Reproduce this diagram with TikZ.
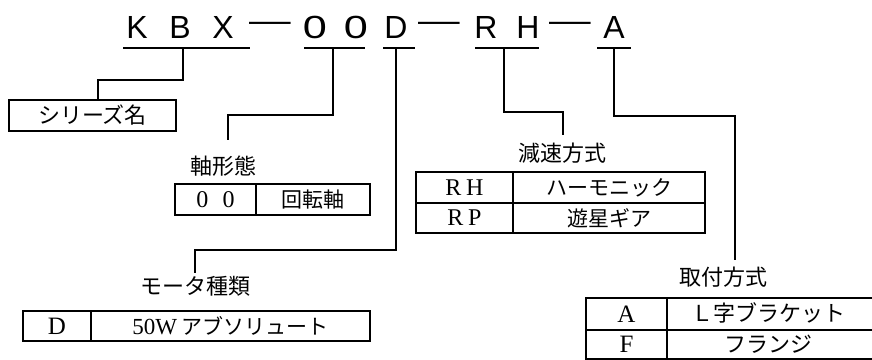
\documentclass[tikz,border=0pt]{standalone}
\usepackage{fontspec}
\newfontfamily\jp{Noto Sans CJK JP}
\newfontfamily\ttl{Liberation Sans}
\newfontfamily\lat{Liberation Serif}
\tikzset{
  ln/.style={line width=2pt},
  ttlch/.style={font=\ttl\fontsize{32}{36}\selectfont, inner sep=0, anchor=base},
  jplabel/.style={font=\jp\fontsize{22}{26}\selectfont, inner sep=0},
  cell/.style={draw, line width=2pt, inner sep=0, anchor=north west, font=\jp\fontsize{21}{25}\selectfont},
  latcell/.style={cell, font=\lat\fontsize{24}{27}\selectfont},
}
\begin{document}
\begin{tikzpicture}[x=1pt,y=-1pt]
\useasboundingbox (0,0) rectangle (872,359);
% title characters
\node[ttlch] (cK) at (137,38) {K};
\node[ttlch] (cB) at (180,38) {B};
\node[ttlch] (cX) at (223,38) {X};
\node[ttlch] (d1) at (270,31.5) {\scalebox{1.3}[1]{—}};
\node[ttlch] (c01) at (315,38) {\scalebox{1.35}[1]{0}};
\node[ttlch] (c02) at (356,38) {\scalebox{1.35}[1]{0}};
\node[ttlch] (cD) at (396,38) {D};
\node[ttlch] (d2) at (439,31.5) {\scalebox{1.3}[1]{—}};
\node[ttlch] (cR) at (486,38) {R};
\node[ttlch] (cH) at (528,38) {H};
\node[ttlch] (d3) at (570,31.5) {\scalebox{1.3}[1]{—}};
\node[ttlch] (cA) at (614,38) {A};
% underlines
\coordinate (u1a) at (123,48); \coordinate (u1b) at (250,48);
\coordinate (u2a) at (304,48); \coordinate (u2b) at (365,48);
\coordinate (u3a) at (383,48); \coordinate (u3b) at (415,48);
\coordinate (u4a) at (475,48); \coordinate (u4b) at (539,48);
\coordinate (u5a) at (597,48); \coordinate (u5b) at (631,48);
\draw[ln] (u1a) -- (u1b) (u2a) -- (u2b) (u3a) -- (u3b) (u4a) -- (u4b) (u5a) -- (u5b);
% series
\node[cell, minimum width=167pt, minimum height=31pt, font=\jp\fontsize{22}{26}\selectfont] (series) at (8,99) {シリーズ名};
\coordinate (s1) at (183,48);
\draw[ln] (s1) -- (183,80) -- (98,80) -- (98,0 |- series.north);
% shaft
\node[jplabel] (lshaft) at (223,166) {軸形態};
\coordinate (s2) at (333,48);
\coordinate (e2) at (228,140);
\draw[ln] (s2) -- (333,115) -- (228,115) -- (e2);
\node[latcell, minimum width=81pt, minimum height=31pt] (t2a) at (174,183) {0\hspace{0.6em}0};
\node[cell, minimum width=114pt, minimum height=31pt] (t2b) at (255,183) {回転軸};
% motor
\node[jplabel] (lmotor) at (195,286) {モータ種類};
\coordinate (s3) at (396,48);
\coordinate (e3) at (195,273);
\draw[ln] (s3) -- (396,250) -- (195,250) -- (e3);
\node[latcell, minimum width=68pt, minimum height=30pt, font=\lat\fontsize{25}{28}\selectfont] (t3a) at (22,310) {D};
\node[cell, minimum width=279pt, minimum height=30pt] (t3b) at (90,310) {{\lat\fontsize{23}{26}\selectfont 50W} アブソリュート};
% reduction
\node[jplabel] (lred) at (562,153) {減速方式};
\coordinate (s4) at (504,48);
\coordinate (e4) at (563,135);
\draw[ln] (s4) -- (504,112) -- (563,112) -- (e4);
\node[latcell, minimum width=97pt, minimum height=31pt] (t4a) at (415,171) {R\hspace{0.2em}H};
\node[cell, minimum width=192pt, minimum height=31pt] (t4b) at (512,171) {ハーモニック};
\node[latcell, minimum width=97pt, minimum height=30pt] (t4c) at (415,202) {R\hspace{0.2em}P};
\node[cell, minimum width=192pt, minimum height=30pt] (t4d) at (512,202) {遊星ギア};
% mounting
\node[jplabel] (lmount) at (723,277) {取付方式};
\coordinate (s5) at (614,48);
\coordinate (e5) at (735,260);
\draw[ln] (s5) -- (614,116) -- (735,116) -- (e5);
\node[latcell, minimum width=81pt, minimum height=32pt, font=\lat\fontsize{25}{28}\selectfont] (t5a) at (585,297) {A};
\node[cell, minimum width=210pt, minimum height=32pt] (t5b) at (666,297) {};
\node[latcell, minimum width=81pt, minimum height=29pt, font=\lat\fontsize{25}{28}\selectfont] (t5c) at (585,329) {F};
\node[cell, minimum width=210pt, minimum height=29pt] (t5d) at (666,329) {};
\node[jplabel] (t5bt) at (768,313) {Ｌ字ブラケット};
\node[jplabel] (t5dt) at (768,344) {フランジ};
\end{tikzpicture}
\end{document}
